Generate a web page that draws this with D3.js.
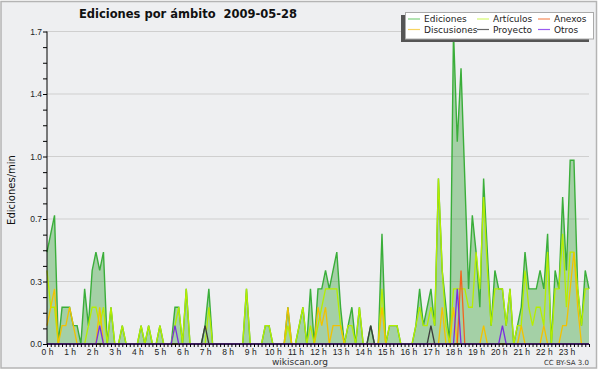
<!DOCTYPE html>
<html>
<head>
<meta charset="utf-8">
<script src="https://cdn.jsdelivr.net/npm/d3@7"></script>
<style>
  body { margin: 0; background: #fff; }
  svg { display: block; font-family: "DejaVu Sans", sans-serif; }
  .axis path, .axis line { stroke: #000; }
  .axis text { font-size: 8.5px; fill: #222; }
</style>
</head>
<body>
<div id="chart"></div>
<script>
// edits per minute, one value every 10 minutes (00:00 .. 24:00)
var ediciones = [0.5,0.6,0.7,0,0.2,0.2,0.2,0.1,0.1,0,
  0.3,0.1,0.4,0.5,0.4,0.5,0,0.2,0,0,
  0.1,0,0,0,0,0.1,0,0.1,0,0,
  0.1,0,0,0,0.2,0.2,0,0.3,0,0,
  0,0,0.1,0.3,0,0,0,0,0,0,
  0,0,0,0.3,0,0,0,0,0.1,0.1,
  0,0,0,0,0.2,0,0,0.1,0.2,0,
  0.3,0,0.3,0.3,0.4,0.3,0.4,0.5,0.2,0,
  0.1,0.2,0,0.2,0,0,0.1,0,0,0.6,
  0,0.1,0.1,0.1,0,0,0,0,0.1,0.3,
  0.1,0.2,0.3,0.1,0.9,0.4,0.2,0,1.7,1.1,
  1.5,0.9,0.3,0.7,0.5,0.2,0.9,0.5,0.1,0.4,
  0.3,0.3,0.1,0.3,0,0.1,0.2,0.5,0.3,0.3,
  0.3,0.4,0.3,0.6,0,0.4,0.3,0.8,0.4,1.0,
  1.0,0.3,0.1,0.4,0.3];

var articulos = [0.4,0.2,0.2,0,0,0,0,0,0,0,
  0,0.1,0.2,0.2,0.1,0.2,0,0.2,0,0,
  0.1,0,0,0,0,0.1,0,0.1,0,0,
  0.1,0,0,0,0.1,0.2,0,0.3,0,0,
  0,0,0,0.2,0,0,0,0,0,0,
  0,0,0,0.3,0,0,0,0,0.1,0.1,
  0,0,0,0,0.1,0,0,0.1,0.2,0,
  0.1,0,0.1,0.2,0.3,0.3,0.3,0.3,0.1,0,
  0.1,0.1,0,0.2,0,0,0,0,0,0.3,
  0,0.1,0.1,0.1,0,0,0,0,0.1,0.2,
  0.1,0.1,0.2,0.1,0.9,0.4,0.1,0,0.3,0.3,
  0.3,0.3,0.2,0.2,0.5,0.3,0.8,0.4,0.1,0.3,
  0.3,0.3,0.1,0.3,0,0.1,0.1,0.4,0.2,0.1,
  0.2,0.2,0.1,0.5,0,0.3,0.3,0.6,0.2,0.5,
  0.5,0.3,0.1,0.3,0.3];

var discusiones = [0.1,0.2,0.3,0,0.1,0.1,0.2,0.1,0,0,
  0,0,0,0,0.2,0,0,0,0,0,
  0,0,0,0,0,0,0,0,0,0,
  0,0,0,0,0,0,0,0,0,0,
  0,0,0,0,0,0,0,0,0,0,
  0,0,0,0,0,0,0,0,0,0,
  0,0,0,0,0.2,0,0,0,0,0,
  0,0,0.2,0.1,0.2,0,0.1,0.1,0.1,0,
  0,0,0,0,0,0,0,0,0,0.2,
  0,0,0,0,0,0,0,0,0,0,
  0,0,0,0,0,0.2,0,0,0.2,0,
  0,0,0,0,0,0,0.1,0,0,0,
  0,0,0,0,0,0,0.1,0,0,0,
  0,0,0.1,0,0,0,0,0.1,0.1,0.3,
  0.5,0.2,0,0,0];

// sparse series: [slot, value]
var anexos = [[110, 0.4]];
var proyecto = [[42, 0.1], [86, 0.1], [102, 0.1]];
var otros = [[14, 0.1], [34, 0.1], [109, 0.3], [121, 0.1]];

var yMax = 1.7;

var W = 600, H = 370;
var margin = { top: 31.5, right: 11, bottom: 26, left: 47 };
var width = W - margin.left - margin.right,
  height = H - margin.top - margin.bottom;

function expand(pairs) {
  var out = ediciones.map(function() { return 0; });
  pairs.forEach(function(p) { out[p[0]] = p[1]; });
  return out;
}

var svg = d3.select("#chart").append("svg")
  .attr("width", W)
  .attr("height", H);

// page background + frame
svg.append("rect")
  .attr("x", 1).attr("y", 1.5)
  .attr("width", 595.5).attr("height", 366.5)
  .attr("fill", "#eeeff1")
  .attr("stroke", "#b4b4b4")
  .attr("stroke-width", 1.5);

var g = svg.append("g")
  .attr("transform", "translate(" + margin.left + "," + margin.top + ")");

var x = d3.scaleLinear().domain([0, 1440]).range([0, width]);
var y = d3.scaleLinear().domain([0, yMax]).range([height, 0]);

var yTicks = d3.range(0, 21).map(function(k) { return k * yMax / 20; });
var yMajor = yTicks.filter(function(d, i) { return i % 4 == 0; });

// grid lines
g.selectAll(".grid")
  .data(yMajor.slice(1))
  .enter().append("line")
  .attr("class", "grid")
  .attr("x1", 0).attr("x2", width)
  .attr("y1", function(d) { return y(d); })
  .attr("y2", function(d) { return y(d); })
  .attr("stroke", "#cfcfcf")
  .attr("stroke-width", 1);

var area = d3.area()
  .x(function(d, i) { return x(i * 10); })
  .y0(height)
  .y1(function(d) { return y(d); });

var line = d3.line()
  .x(function(d, i) { return x(i * 10); })
  .y(function(d) { return y(d); });

// Ediciones: filled area
g.append("path")
  .datum(ediciones)
  .attr("d", area)
  .attr("fill", "#3fa53f")
  .attr("fill-opacity", 0.42);

g.append("path")
  .datum(ediciones)
  .attr("d", line)
  .attr("fill", "none")
  .attr("stroke", "#3aae3a")
  .attr("stroke-width", 1.4);

var series = [
  { name: "Artículos", data: articulos, color: "#b5ee00" },
  { name: "Discusiones", data: discusiones, color: "#f2c200" },
  { name: "Anexos", data: expand(anexos), color: "#f2641e" },
  { name: "Proyecto", data: expand(proyecto), color: "#3c3c3c" },
  { name: "Otros", data: expand(otros), color: "#7a2fe0" }
];

series.forEach(function(s) {
  g.append("path")
    .datum(s.data)
    .attr("d", line)
    .attr("fill", "none")
    .attr("stroke", s.color)
    .attr("stroke-width", 1.3);
});

// Y axis
g.append("g")
  .attr("class", "axis")
  .call(d3.axisLeft(y)
    .tickValues(yTicks)
    .tickSize(4)
    .tickPadding(1)
    .tickFormat(function(d, i) { return i % 4 == 0 ? d3.format(".1f")(d) : ""; }))
  .call(function(a) { a.select(".domain").attr("d", "M0," + height + "V0"); });

// X axis, tick every 10 min, label every hour
g.append("g")
  .attr("class", "axis")
  .attr("transform", "translate(0," + height + ")")
  .call(d3.axisBottom(x)
    .tickValues(d3.range(0, 1441, 10))
    .tickSize(3)
    .tickPadding(2)
    .tickFormat(function(d) {
      return (d % 60 == 0 && d < 1440) ? (d / 60) + " h" : "";
    }))
  .call(function(a) { a.select(".domain").attr("d", "M0,0H" + width); });

// title
svg.append("text")
  .attr("x", 188).attr("y", 18)
  .attr("text-anchor", "middle")
  .attr("font-size", 11.5)
  .attr("font-weight", "bold")
  .attr("fill", "#111")
  .style("white-space", "pre")
  .text("Ediciones por ámbito  2009-05-28");

// y label
svg.append("text")
  .attr("transform", "translate(15,190) rotate(-90)")
  .attr("text-anchor", "middle")
  .attr("font-size", 10)
  .attr("fill", "#111")
  .text("Ediciones/min");

// footer
svg.append("text")
  .attr("x", 300).attr("y", 365)
  .attr("text-anchor", "middle")
  .attr("font-size", 9)
  .attr("fill", "#333")
  .text("wikiscan.org");

svg.append("text")
  .attr("x", 589).attr("y", 365)
  .attr("text-anchor", "end")
  .attr("font-size", 7)
  .attr("fill", "#333")
  .text("CC BY-SA 3.0");

// legend
var legendItems = [
  { name: "Ediciones", color: "#7fd07f", col: 0, row: 0 },
  { name: "Discusiones", color: "#f7d460", col: 0, row: 1 },
  { name: "Artículos", color: "#d4f870", col: 1, row: 0 },
  { name: "Proyecto", color: "#666", col: 1, row: 1 },
  { name: "Anexos", color: "#f58a5a", col: 2, row: 0 },
  { name: "Otros", color: "#9a5cf0", col: 2, row: 1 }
];
var colX = [408, 477, 538];

var legend = svg.append("g");
legend.append("rect")
  .attr("x", 401).attr("y", 15)
  .attr("width", 188).attr("height", 27)
  .attr("fill", "#555");
legend.append("rect")
  .attr("x", 405.5).attr("y", 12.5)
  .attr("width", 188).attr("height", 26.5)
  .attr("fill", "#fff")
  .attr("stroke", "#aaa");

var li = legend.selectAll(".li")
  .data(legendItems)
  .enter().append("g")
  .attr("transform", function(d) {
    return "translate(" + colX[d.col] + "," + (19 + d.row * 10.5) + ")";
  });

li.append("line")
  .attr("x1", 0).attr("x2", 12)
  .attr("stroke", function(d) { return d.color; })
  .attr("stroke-width", 1.2);

li.append("text")
  .attr("x", 16).attr("y", 3.2)
  .attr("font-size", 9)
  .attr("fill", "#222")
  .text(function(d) { return d.name; });
</script>
</body>
</html>
